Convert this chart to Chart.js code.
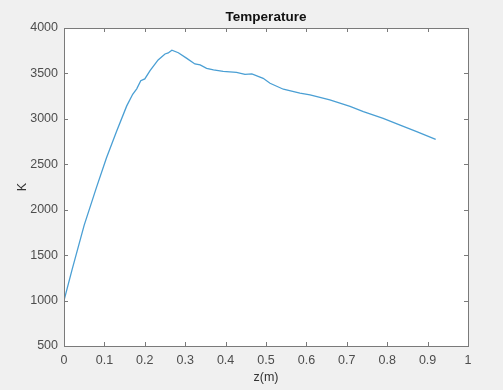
<!DOCTYPE html>
<html lang="en">
<head>
    <meta charset="UTF-8">
    <title>Temperature</title>
    <script src="https://cdn.jsdelivr.net/npm/chart.js@4.4.0/dist/chart.umd.min.js"></script>
    <style>
        * { margin: 0; padding: 0; box-sizing: border-box; }
        body { background: #f0f0f0; width: 503px; height: 390px; overflow: hidden; }
        canvas { display: block; }
    </style>
</head>
<body>
    <canvas id="tempChart" width="503" height="390"></canvas>

    <script>
        // values
        const zValues = [0, 0.02, 0.05, 0.08, 0.105, 0.13, 0.155, 0.17, 0.18, 0.19, 0.2, 0.213, 0.233, 0.25, 0.258, 0.267,
            0.283, 0.304, 0.324, 0.337, 0.353, 0.37, 0.394, 0.427, 0.448, 0.465, 0.493, 0.51, 0.543, 0.584, 0.609,
            0.658, 0.708, 0.741, 0.79, 0.832, 0.873, 0.92];
        const tempValues = [1000, 1340, 1830, 2240, 2570, 2860, 3140, 3270, 3330, 3420, 3440, 3530, 3648, 3714, 3725, 3755,
            3728, 3666, 3604, 3593, 3556, 3538, 3523, 3512, 3490, 3494, 3446, 3392, 3326, 3282, 3263,
            3208, 3138, 3079, 3006, 2932, 2859, 2775];
        const xTicks = [0, 0.1, 0.2, 0.3, 0.4, 0.5, 0.6, 0.7, 0.8, 0.9, 1];
        const yTicks = [500, 1000, 1500, 2000, 2500, 3000, 3500, 4000];

        const points = zValues.map((z, i) => ({ x: z, y: tempValues[i] }));
        const font = 'Liberation Sans, Arial, sans-serif';

        // matlab-ish frame: white plot area, grey box, inward ticks on all sides
        const axesBox = {
            id: 'axesBox',
            beforeDraw(chart) {
                const { ctx, chartArea: a } = chart;
                ctx.save();
                ctx.fillStyle = '#f0f0f0';
                ctx.fillRect(0, 0, chart.width, chart.height);
                ctx.fillStyle = '#ffffff';
                ctx.fillRect(a.left, a.top, a.right - a.left, a.bottom - a.top);
                ctx.restore();
            },
            afterDraw(chart) {
                const { ctx, chartArea: a, scales } = chart;
                ctx.save();
                ctx.strokeStyle = '#7a7a7a';
                ctx.lineWidth = 1;
                ctx.beginPath();
                xTicks.forEach(v => {
                    const px = Math.round(scales.x.getPixelForValue(v)) + 0.5;
                    ctx.moveTo(px, a.bottom); ctx.lineTo(px, a.bottom - 4);
                    ctx.moveTo(px, a.top); ctx.lineTo(px, a.top + 4);
                });
                yTicks.forEach(v => {
                    const py = Math.round(scales.y.getPixelForValue(v)) + 0.5;
                    ctx.moveTo(a.left, py); ctx.lineTo(a.left + 4, py);
                    ctx.moveTo(a.right, py); ctx.lineTo(a.right - 4, py);
                });
                ctx.stroke();
                ctx.strokeRect(Math.round(a.left) + 0.5, Math.round(a.top) + 0.5,
                    Math.round(a.right - a.left), Math.round(a.bottom - a.top));
                ctx.restore();
            }
        };

        new Chart(document.getElementById('tempChart'), {
            type: 'scatter',
            data: {
                datasets: [{
                    data: points,
                    showLine: true,
                    borderColor: '#4a9fd4',
                    borderWidth: 1.3,
                    pointRadius: 0,
                    tension: 0
                }]
            },
            options: {
                responsive: false,
                animation: false,
                devicePixelRatio: 1,
                layout: { padding: { left: 0, right: 35, top: 0, bottom: 0 } },
                plugins: {
                    legend: { display: false },
                    tooltip: { enabled: false },
                    title: {
                        display: true,
                        fullSize: false,
                        text: 'Temperature',
                        color: '#111',
                        font: { family: font, size: 13.5, weight: 'bold', lineHeight: 1.2 },
                        padding: { top: 9, bottom: 2.8 }
                    }
                },
                scales: {
                    x: {
                        type: 'linear',
                        min: 0,
                        max: 1,
                        afterBuildTicks(scale) { scale.ticks = xTicks.map(v => ({ value: v })); },
                        afterFit(scale) { scale.height = 44; },
                        grid: { display: false, drawTicks: false },
                        border: { display: false },
                        ticks: {
                            color: '#4d4d4d',
                            font: { family: font, size: 12.5 },
                            padding: 7,
                            maxRotation: 0,
                            autoSkip: false,
                            callback: v => String(v)
                        },
                        title: {
                            display: true,
                            text: 'z(m)',
                            color: '#333',
                            font: { family: font, size: 12.5, lineHeight: 1.2 },
                            padding: { top: 0, bottom: 5 }
                        }
                    },
                    y: {
                        type: 'linear',
                        min: 500,
                        max: 4000,
                        afterBuildTicks(scale) { scale.ticks = yTicks.map(v => ({ value: v })); },
                        afterFit(scale) { scale.width = 64; },
                        grid: { display: false, drawTicks: false },
                        border: { display: false },
                        ticks: {
                            color: '#4d4d4d',
                            font: { family: font, size: 12.5 },
                            padding: 6,
                            autoSkip: false,
                            callback: v => String(v)
                        },
                        title: {
                            display: true,
                            text: 'K',
                            color: '#333',
                            font: { family: font, size: 12.5, lineHeight: 1.2 },
                            padding: { top: 15, bottom: 0 }
                        }
                    }
                }
            },
            plugins: [axesBox]
        });
    </script>
</body>
</html>
